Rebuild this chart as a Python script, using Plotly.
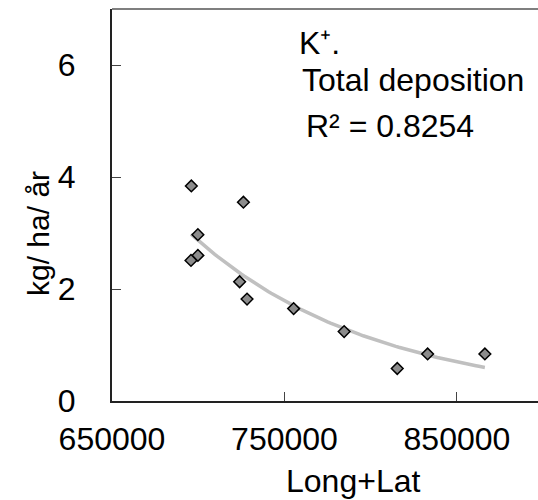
import numpy as np
import plotly.graph_objects as go

# Data
long_lat = [696000, 726200, 699800, 699800, 695800, 724000, 728300,
            755300, 784600, 815400, 833000, 866200]
k_deposition = [3.84, 3.55, 2.97, 2.60, 2.51, 2.13, 1.82,
                1.65, 1.24, 0.58, 0.84, 0.84]

x_ticks = [650000, 750000, 850000]
y_ticks = [0, 2, 4, 6]

label_k = "K⁺."
label_total = "Total deposition"
label_r2 = "R² = 0.8254"
x_title = "Long+Lat"
y_title = "kg/ ha/ år"

# Exponential trend line fitted to the data (as in the spreadsheet)
xa = np.array(long_lat, dtype=float)
ya = np.array(k_deposition, dtype=float)
b, ln_a = np.polyfit(xa, np.log(ya), 1)
xt = np.linspace(xa.min(), xa.max(), 100)
yt = np.exp(ln_a + b * xt)

FONT = "Liberation Sans, Arial, sans-serif"
W, H = 538, 500
L, R, T, B = 112, 0, 9, 99
PW, PH = W - L - R, H - T - B


def px(xpix):
    return (xpix - L) / PW


def py(ypix):
    return (H - B - ypix) / PH


fig = go.Figure()
fig.add_trace(go.Scatter(x=xt, y=yt, mode="lines",
                         line=dict(color="#c0c0c0", width=3.5),
                         hoverinfo="skip", showlegend=False))
fig.add_trace(go.Scatter(x=long_lat, y=k_deposition, mode="markers",
                         marker=dict(symbol="diamond", size=9, color="#8c8c8c",
                                     line=dict(color="#000000", width=1.5)),
                         showlegend=False))

fig.update_layout(
    width=W, height=H,
    margin=dict(l=L, r=R, t=T, b=B, pad=0),
    paper_bgcolor="white", plot_bgcolor="white",
    font=dict(family=FONT, size=32, color="#000000"),
    showlegend=False,
)
fig.update_xaxes(range=[650000, 897000], tickvals=x_ticks, tickformat="d",
                 showgrid=False, zeroline=False, showline=True,
                 linecolor="#222222", linewidth=2,
                 ticks="inside", ticklen=9, tickwidth=1, tickcolor="#444444",
                 ticklabelstandoff=9,
                 tickfont=dict(family=FONT, size=32, color="#000000"))
fig.update_yaxes(range=[0, 7], tickvals=y_ticks,
                 showgrid=False, zeroline=False, showline=True,
                 linecolor="#222222", linewidth=2,
                 ticks="inside", ticklen=9, tickwidth=1, tickcolor="#444444",
                 ticklabelstandoff=28,
                 tickfont=dict(family=FONT, size=32, color="#000000"))

# top border of the plot area (right side is cut off in the reference)
fig.add_shape(type="line", xref="paper", yref="paper", x0=0, x1=1, y0=1, y1=1,
              line=dict(color="#555555", width=1.5))

ann = dict(xref="paper", yref="paper", showarrow=False, xanchor="left",
           yanchor="middle", font=dict(family=FONT, size=32, color="#000000"))
fig.add_annotation(text=label_k, x=px(297), y=py(43), **ann)
fig.add_annotation(text=label_total, x=px(300), y=py(80), **ann)
fig.add_annotation(text=label_r2, x=px(304), y=py(126), **ann)

fig.add_annotation(text=x_title, xref="paper", yref="paper", showarrow=False,
                   x=px(353), y=py(481), xanchor="center", yanchor="middle",
                   font=dict(family=FONT, size=32, color="#000000"))
fig.add_annotation(text=y_title, xref="paper", yref="paper", showarrow=False,
                   x=px(38), y=py(234), xanchor="center", yanchor="middle",
                   textangle=-90,
                   font=dict(family=FONT, size=30, color="#000000"))

fig.write_html("out.html")
